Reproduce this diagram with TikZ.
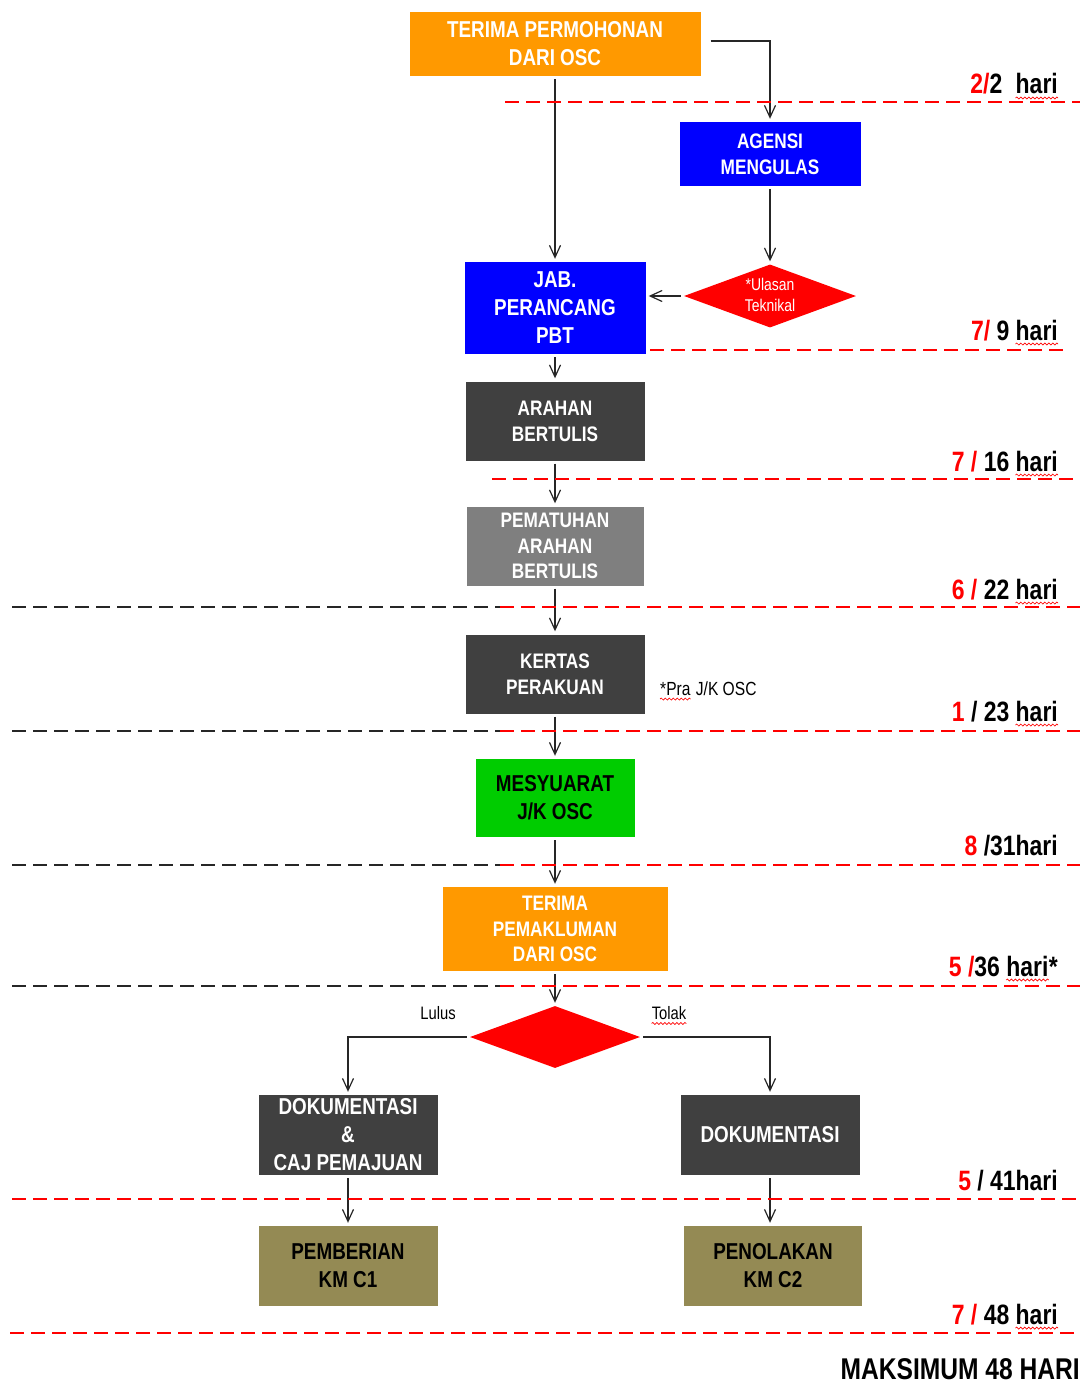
\documentclass[tikz,border=0pt]{standalone}
\usepackage{fontspec}
\setmainfont[FakeStretch=0.82]{Liberation Sans}
\usetikzlibrary{positioning,shapes.geometric,arrows.meta,decorations.pathmorphing}

\definecolor{oscorange}{HTML}{FF9900}
\definecolor{darkbox}{HTML}{404040}
\definecolor{greybox}{HTML}{7F7F7F}
\definecolor{meetgreen}{HTML}{00CC00}
\definecolor{olivebox}{HTML}{948A54}
\definecolor{darkline}{HTML}{262626}

\tikzset{
  box/.style={rectangle, inner sep=0pt, align=center, text=white, font=\bfseries\fontsize{21}{26}\selectfont},
  bigbox/.style={box, font=\bfseries\fontsize{23}{28}\selectfont},
  choice/.style={diamond, aspect=2.7, fill=red, inner sep=0pt},
  flow/.style={-{Straight Barb[length=12pt,width=11pt]}, line width=1.2pt, draw=darkline, shorten <=3pt, shorten >=3pt},
  redline/.style={draw=red, line width=1.6pt, dash pattern=on 14pt off 7pt},
  greyline/.style={draw=darkline, line width=1.6pt, dash pattern=on 14pt off 7pt},
  hari/.style={anchor=base east, inner sep=0pt, font=\bfseries\fontsize{28}{28}\selectfont},
  note/.style={inner sep=0pt, font=\fontsize{18}{20}\selectfont},
  spell/.style={draw=red, line width=0.7pt, decorate, decoration={snake, amplitude=1pt, segment length=4pt}}
}

\begin{document}
\begin{tikzpicture}[x=1pt, y=-1pt]
    \useasboundingbox (0,0) rectangle (1084,1383);

    % aliran utama
    \node[bigbox, fill=oscorange, minimum width=291, minimum height=64] (terima) at (555,44) {TERIMA PERMOHONAN\\DARI OSC};
    \node[box, fill=blue, minimum width=181, minimum height=64] (agensi) at (770,154) {AGENSI\\MENGULAS};
    \node[bigbox, fill=blue, minimum width=181, minimum height=92] (jab) at (555,308) {JAB.\\PERANCANG\\PBT};
    \node[choice, minimum width=172, minimum height=63] (ulasan) at (770,296) {};
    \node[note, text=white, font=\fontsize{17}{20}\selectfont] (ulasanA) at (770,284) {*Ulasan};
    \node[note, text=white, font=\fontsize{17}{20}\selectfont] (ulasanB) at (770,305) {Teknikal};
    \node[box, fill=darkbox, minimum width=179, minimum height=79] (arahan) at (555,421) {ARAHAN\\BERTULIS};
    \node[box, fill=greybox, minimum width=177, minimum height=79, font=\bfseries\fontsize{21}{25.5}\selectfont] (pematuhan) at (555,546) {PEMATUHAN\\ARAHAN\\BERTULIS};
    \node[box, fill=darkbox, minimum width=179, minimum height=79] (kertas) at (555,674) {KERTAS\\PERAKUAN};
    \node[bigbox, fill=meetgreen, text=black, minimum width=159, minimum height=78] (mesyuarat) at (555,798) {MESYUARAT\\J/K OSC};
    \node[box, fill=oscorange, minimum width=225, minimum height=84, font=\bfseries\fontsize{21}{25.5}\selectfont] (makluman) at (555,929) {TERIMA\\PEMAKLUMAN\\DARI OSC};
    \node[choice, minimum width=170, minimum height=62] (keputusan) at (555,1037) {};

    % cabang lulus / tolak
    \node[bigbox, fill=darkbox, minimum width=179, minimum height=80] (lulusdok) at (348,1135) {DOKUMENTASI\\\&\\CAJ PEMAJUAN};
    \node[bigbox, fill=darkbox, minimum width=179, minimum height=80] (tolakdok) at (770,1135) {DOKUMENTASI};
    \node[bigbox, fill=olivebox, text=black, minimum width=179, minimum height=80] (kmsatu) at (348,1266) {PEMBERIAN\\KM C1};
    \node[bigbox, fill=olivebox, text=black, minimum width=178, minimum height=80] (kmdua) at (773,1266) {PENOLAKAN\\KM C2};

    \node[note] (lulus) at (438,1013) {Lulus};
    \node[note] (tolak) at (669,1013) {Tolak};
    \node[note, anchor=base west, font=\fontsize{19}{20}\selectfont] (pra) at (660,695) {*Pra};
    \node[note, base right=5pt of pra, font=\fontsize{19}{20}\selectfont] (praosc) {J/K OSC};

    % anak panah
    \draw[flow] ([xshift=7pt,yshift=3pt]terima.east) -| (agensi.north);
    \draw[flow] (terima.south) -- (jab.north);
    \draw[flow] (agensi.south) -- (ulasan.north);
    \draw[flow] (ulasan.west) -- (ulasan.west -| jab.east);
    \foreach \from/\to in {jab/arahan, arahan/pematuhan, pematuhan/kertas, kertas/mesyuarat, mesyuarat/makluman, makluman/keputusan}
        \draw[flow] (\from) -- (\to);
    \draw[flow] (keputusan.west) -| (lulusdok.north);
    \draw[flow] (keputusan.east) -| (tolakdok.north);
    \draw[flow] (lulusdok.south) -- (kmsatu.north);
    \draw[flow] (tolakdok.south) -- (tolakdok.south |- kmdua.north);

    % garis tempoh
    \draw[redline] (505,102) -- (1080,102);
    \draw[redline] (650,350) -- (1068,350);
    \draw[redline] (492,479) -- (1080,479);
    \foreach \y in {607,731,865,986} {
        \draw[greyline] (12,\y) -- (500,\y);
        \draw[redline] (500,\y) -- (1080,\y);
    }
    \draw[redline] (12,1199) -- (1080,1199);
    \draw[redline] (10,1333) -- (1080,1333);

    % hari
    \node[hari] (hariA) at (1058,94) {hari};
    \node[hari, base left=13pt of hariA] {\textcolor{red}{2/}2};
    \node[hari] (hariB) at (1058,340) {hari};
    \node[hari, base left=6pt of hariB] {\textcolor{red}{7/} 9};
    \node[hari] (hariC) at (1058,471) {hari};
    \node[hari, base left=6pt of hariC] {\textcolor{red}{7 /} 16};
    \node[hari] (hariD) at (1058,599) {hari};
    \node[hari, base left=6pt of hariD] {\textcolor{red}{6 /} 22};
    \node[hari] (hariE) at (1058,721) {hari};
    \node[hari, base left=6pt of hariE] {\textcolor{red}{1} / 23};
    \node[hari] (hariF) at (1058,855) {\textcolor{red}{8} /31hari};
    \node[hari] (bintang) at (1058,976) {*};
    \node[hari, base left=0pt of bintang] (hariG) {hari};
    \node[hari, base left=6pt of hariG] {\textcolor{red}{5 /}36};
    \node[hari] (hariH) at (1058,1190) {\textcolor{red}{5} / 41hari};
    \node[hari] (hariI) at (1058,1324) {hari};
    \node[hari, base left=6pt of hariI] {\textcolor{red}{7 /} 48};
    \node[hari, font=\bfseries\fontsize{30}{30}\selectfont] (maksimum) at (1080,1379) {MAKSIMUM 48 HARI};

    % tanda ejaan
    \foreach \w in {hariA,hariB,hariC,hariD,hariE,hariG,hariI,ulasanA,ulasanB,tolak,pra}
        \draw[spell] ([yshift=-4pt]\w.base west) -- ([yshift=-4pt]\w.base east);
\end{tikzpicture}
\end{document}
